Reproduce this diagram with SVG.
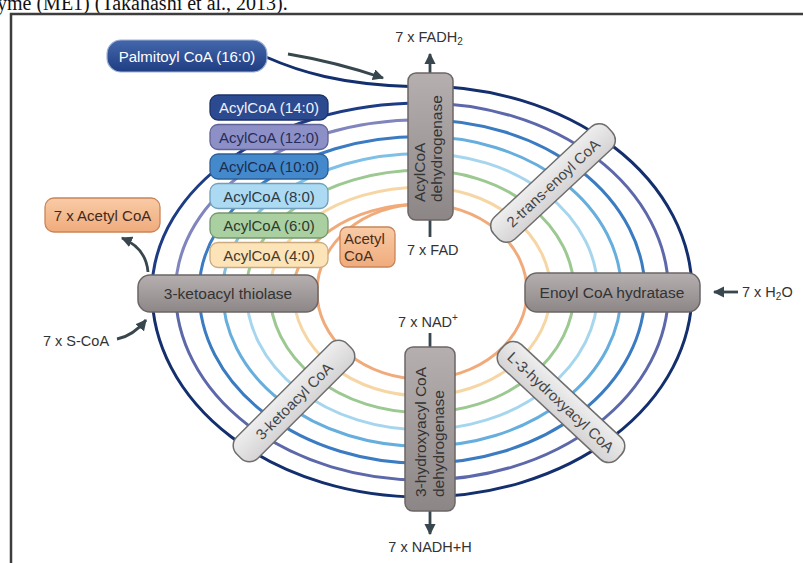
<svg xmlns="http://www.w3.org/2000/svg" width="803" height="563" viewBox="0 0 803 563">
  <style>
    text { font-family: "Liberation Sans", Arial, sans-serif; }
    .ring { fill: none; stroke-width: 3; stroke-linecap: butt; }
    .enz rect { fill: url(#gEnz); stroke: #6c6666; stroke-width: 1.5; }
    .enz text { fill: #333; font-size: 15.5px; }
    .mid rect { fill: url(#gMid); stroke: #6e6e6e; stroke-width: 1.5; }
    .mid text { fill: #444; font-size: 15px; text-anchor: middle; }
    .acyl rect { stroke-width: 1.3; }
    .acyl text { font-size: 15px; text-anchor: middle; }
    .lbl { fill: #333; font-size: 14.5px; }
    .arr { fill: none; stroke: #38464e; stroke-width: 2.8; }
  </style>
  <defs>
    <linearGradient id="gEnz" x1="0" y1="0" x2="0" y2="1">
      <stop offset="0" stop-color="#b5afaf"/>
      <stop offset="0.5" stop-color="#a19b9b"/>
      <stop offset="1" stop-color="#8c8686"/>
    </linearGradient>
    <linearGradient id="gMid" x1="0" y1="0" x2="0" y2="1">
      <stop offset="0" stop-color="#efeeee"/>
      <stop offset="1" stop-color="#d5d3d3"/>
    </linearGradient>
    <linearGradient id="gPalm" x1="0" y1="0" x2="0" y2="1">
      <stop offset="0" stop-color="#4467ab"/>
      <stop offset="1" stop-color="#1f3d82"/>
    </linearGradient>
    <linearGradient id="gOrange" x1="0" y1="0" x2="0" y2="1">
      <stop offset="0" stop-color="#f8cba6"/>
      <stop offset="1" stop-color="#f0ab7c"/>
    </linearGradient>
    <marker id="ah" viewBox="0 0 10 10" refX="9" refY="5" markerWidth="4" markerHeight="4" orient="auto" markerUnits="strokeWidth">
      <path d="M0,0 L10,5 L0,10 z" fill="#38464e"/>
    </marker>
  </defs>

  <rect width="803" height="563" fill="#fff"/>

  <!-- caption line running off the top edge -->
  <text x="-3" y="10" font-size="20" fill="#111" style="font-family:'Liberation Serif','Times New Roman',serif">yme (ME1) (Takahashi et al., 2013).</text>

  <!-- figure frame -->
  <path d="M11,563 V14 H803" fill="none" stroke="#3d3d3d" stroke-width="2.5"/>

  <!-- beta-oxidation cycle: concentric rings (top → right → bottom → left) -->
  <g id="cycle-rings">
    <path class="ring" stroke="#132f6e" stroke-width="3.8" d="M422,86 A270,205.5 0 1 1 152,291.5"/>
    <path class="ring" stroke="#5d68aa" d="M422,102.9 A246.4,188.6 0 1 1 175.6,291.5"/>
    <path class="ring" stroke="#3a7bc2" d="M422,119.7 A222.9,171.8 0 1 1 199.1,291.5"/>
    <path class="ring" stroke="#66aedd" d="M422,136.6 A199.3,154.9 0 1 1 222.7,291.5"/>
    <path class="ring" stroke="#a6d6ee" d="M422,153.4 A175.7,138.1 0 1 1 246.3,291.5"/>
    <path class="ring" stroke="#9cc892" d="M422,170.3 A152.1,121.2 0 1 1 269.9,291.5"/>
    <path class="ring" stroke="#f6d6a4" d="M422,187.2 A128.6,104.3 0 1 1 293.4,291.5"/>
    <path class="ring" stroke="#f1ab7b" d="M422,204 A105,87.5 0 1 1 317,291.5"/>

    <!-- upper-left quarter: each shortened chain steps one ring inward -->
    <path class="ring" stroke="#1d3c84" stroke-width="3.4" d="M152,291.5 C152,187.3 272.9,102.9 422,102.9"/>
    <path class="ring" stroke="#8085bd" d="M175.6,291.5 C175.6,196.6 285.9,119.7 422,119.7"/>
    <path class="ring" stroke="#3a7bc2" d="M199.1,291.5 C199.1,205.9 298.9,136.6 422,136.6"/>
    <path class="ring" stroke="#7fc0e6" d="M222.7,291.5 C222.7,215.2 311.9,153.4 422,153.4"/>
    <path class="ring" stroke="#9cc892" d="M246.3,291.5 C246.3,224.6 325,170.3 422,170.3"/>
    <path class="ring" stroke="#f6d6a4" d="M269.9,291.5 C269.9,233.9 338,187.2 422,187.2"/>
    <path class="ring" stroke="#f1ab7b" d="M293.4,291.5 C293.4,243.2 351,204 422,204"/>
    <path class="ring" stroke="#f1ab7b" d="M317,291.5 C317,243.2 364,204 422,204"/>

    <!-- palmitoyl CoA entering the first round -->
    <path class="ring" stroke="#132f6e" stroke-width="4" d="M266,57 C300,72 340,84 410,86.5"/>
  </g>

  <g id="connectors">
    <path class="arr" stroke-width="2" d="M288,54 Q336,62 383,78" marker-end="url(#ah)"/>
    <path class="arr" d="M430,73 V54" marker-end="url(#ah)"/>
    <path class="arr" d="M430,237 V220"/>
    <path class="arr" d="M430,333 V347"/>
    <path class="arr" d="M430,511 V534" marker-end="url(#ah)"/>
    <path class="arr" d="M738,292 H714" marker-end="url(#ah)"/>
    <path class="arr" d="M148,272 Q146,248 122,238" marker-end="url(#ah)"/>
    <path class="arr" d="M117,339 Q133,336 146,320" marker-end="url(#ah)"/>
  </g>

  <!-- substrates -->
  <g id="palmitoyl-coa">
    <rect x="107" y="40" width="160" height="32" rx="14" fill="url(#gPalm)" stroke="#9fb2d6" stroke-width="1.2"/>
    <text x="187" y="61.5" fill="#fff" font-size="15" text-anchor="middle">Palmitoyl CoA (16:0)</text>
  </g>

  <g id="acylcoa-14" class="acyl">
    <rect x="210" y="95" width="118" height="25" rx="8" fill="#2c4a8f" stroke="#1d326a"/>
    <text x="269" y="113" fill="#eef1f8">AcylCoA (14:0)</text>
  </g>
  <g id="acylcoa-12" class="acyl">
    <rect x="210" y="124.5" width="118" height="25" rx="8" fill="#8d90c6" stroke="#5f6296"/>
    <text x="269" y="142.5" fill="#282c5a">AcylCoA (12:0)</text>
  </g>
  <g id="acylcoa-10" class="acyl">
    <rect x="210" y="154" width="118" height="25" rx="8" fill="#4389cc" stroke="#2c5f98"/>
    <text x="269" y="172" fill="#1b2e52">AcylCoA (10:0)</text>
  </g>
  <g id="acylcoa-8" class="acyl">
    <rect x="210" y="183.5" width="118" height="25" rx="8" fill="#acdaf2" stroke="#6f9fba"/>
    <text x="269" y="201.5" fill="#2d3a46">AcylCoA (8:0)</text>
  </g>
  <g id="acylcoa-6" class="acyl">
    <rect x="210" y="213" width="118" height="25" rx="8" fill="#aad0a2" stroke="#74966e"/>
    <text x="269" y="231" fill="#2d3a2d">AcylCoA (6:0)</text>
  </g>
  <g id="acylcoa-4" class="acyl">
    <rect x="210" y="242.5" width="118" height="25" rx="8" fill="#fce3b8" stroke="#c9ab7e"/>
    <text x="269" y="260.5" fill="#473a2a">AcylCoA (4:0)</text>
  </g>

  <g id="acetyl-coa">
    <rect x="340" y="227" width="55" height="40" rx="7" fill="url(#gOrange)" stroke="#c98558" stroke-width="1.3"/>
    <text x="344" y="244" fill="#4a2e1c" font-size="15">Acetyl</text>
    <text x="344" y="261" fill="#4a2e1c" font-size="15">CoA</text>
  </g>

  <g id="acetyl-coa-out">
    <rect x="45" y="198" width="115" height="34" rx="9" fill="url(#gOrange)" stroke="#c98558" stroke-width="1.3"/>
    <text x="102.5" y="221" fill="#3f2a1c" font-size="15" text-anchor="middle">7 x Acetyl CoA</text>
  </g>

  <!-- enzymes -->
  <g id="acylcoa-dehydrogenase" class="enz">
    <rect x="408" y="73" width="45" height="147" rx="8"/>
    <text transform="translate(425,202) rotate(-90)">AcylCoA</text>
    <text transform="translate(442,202) rotate(-90)">dehydrogenase</text>
  </g>
  <g id="enoyl-coa-hydratase" class="enz">
    <rect x="525" y="273" width="175" height="39" rx="12"/>
    <text x="612" y="298" text-anchor="middle">Enoyl CoA hydratase</text>
  </g>
  <g id="hydroxyacyl-coa-dehydrogenase" class="enz">
    <rect x="405" y="347" width="50" height="164" rx="8"/>
    <text transform="translate(426,497) rotate(-90)">3-hydroxyacyl CoA</text>
    <text transform="translate(444,497) rotate(-90)">dehydrogenase</text>
  </g>
  <g id="ketoacyl-thiolase" class="enz">
    <rect x="138" y="275" width="180" height="37" rx="12"/>
    <text x="228" y="299" text-anchor="middle">3-ketoacyl thiolase</text>
  </g>

  <!-- intermediates -->
  <g id="trans-enoyl-coa" class="mid" transform="translate(553,183) rotate(-43)">
    <rect x="-78" y="-15" width="156" height="30" rx="12"/>
    <text y="5.5">2-trans-enoyl CoA</text>
  </g>
  <g id="hydroxyacyl-coa" class="mid" transform="translate(561,402) rotate(43)">
    <rect x="-80" y="-15" width="160" height="30" rx="12"/>
    <text y="5.5">L-3-hydroxyacyl CoA</text>
  </g>
  <g id="ketoacyl-coa" class="mid" transform="translate(294,401) rotate(-45)">
    <rect x="-78" y="-15" width="156" height="30" rx="12"/>
    <text y="5.5">3-ketoacyl CoA</text>
  </g>

  <!-- cofactors -->
  <g id="cofactors">
    <text class="lbl" x="429" y="42" text-anchor="middle">7 x FADH<tspan font-size="10" dy="3">2</tspan></text>
    <text class="lbl" x="407" y="255">7 x FAD</text>
    <text class="lbl" x="428" y="327" text-anchor="middle">7 x NAD<tspan font-size="10" dy="-6">+</tspan></text>
    <text class="lbl" x="430" y="552" text-anchor="middle">7 x NADH+H</text>
    <text class="lbl" x="742" y="297">7 x H<tspan font-size="10" dy="3">2</tspan><tspan dy="-3">O</tspan></text>
    <text class="lbl" x="43" y="346">7 x S-CoA</text>
  </g>
</svg>
